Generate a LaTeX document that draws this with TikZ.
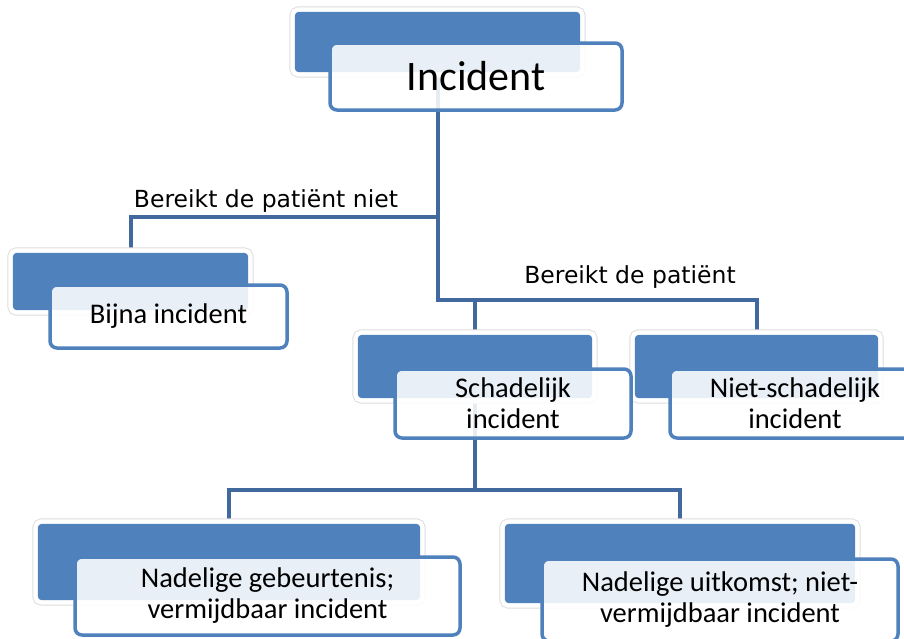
\documentclass[tikz,border=0pt]{standalone}
\usepackage{fontspec}
\setmainfont{Carlito}
\newfontfamily\lblfont{DejaVu Sans}
\definecolor{boxblue}{HTML}{4F81BD}
\definecolor{linkblue}{HTML}{41699E}
\begin{document}
\begin{tikzpicture}[x=1pt,y=-1pt,
  backbox/.style={fill=boxblue, rounded corners=4pt, inner sep=0pt,
    preaction={draw=black!13, line width=11pt},
    preaction={draw=white, line width=9pt}},
  frontbox/.style={draw=boxblue, line width=3.5pt, fill=white, fill opacity=0.88,
    text opacity=1, rounded corners=7pt, inner sep=0pt, align=center,
    font=\fontsize{28.5}{31}\selectfont},
  link/.style={draw=linkblue, line width=4pt},
  lbl/.style={font=\lblfont\fontsize{23.5}{28}\selectfont, inner sep=0pt}]
\useasboundingbox (0,0) rectangle (904,638);
\fill[white] (0,0) rectangle (904,638);

% back boxes (positions only; drawn later)
\path (437.5,42) node[minimum width=285pt, minimum height=60pt, inner sep=0pt] (incB) {};
\path (130.5,281.5) node[minimum width=235pt, minimum height=57pt, inner sep=0pt] (bijB) {};
\path (475,366.5) node[minimum width=234pt, minimum height=63pt, inner sep=0pt] (schB) {};
\path (756.5,366.5) node[minimum width=243pt, minimum height=63pt, inner sep=0pt] (nietB) {};
\path (229,562) node[minimum width=382pt, minimum height=76pt, inner sep=0pt] (nlB) {};
\path (680,563.5) node[minimum width=350pt, minimum height=79pt, inner sep=0pt] (nrB) {};

% junctions
\coordinate (jl) at (incB.center |- 0,217);
\coordinate (jr) at (incB.center |- 0,300);
\coordinate (jb) at (schB.center |- 0,490);

% connectors
\draw[link] (incB.center) -- (jr) -| (nietB.north);
\draw[link] (jl) -| (bijB.north);
\draw[link] (jr -| schB.north) -- (schB.north);
\draw[link] (schB.center) -- (jb);
\draw[link] (nlB.north) |- (jb) -| (nrB.north);

% back rectangles
\foreach \n in {incB,bijB,schB,nietB,nlB,nrB}
  \path[backbox] (\n.north west) rectangle (\n.south east);

% front boxes
\node[frontbox, minimum width=292pt, minimum height=67pt,
  font=\fontsize{42}{46}\selectfont] (incF) at (476,76.5) {Incident};
\node[frontbox, minimum width=237pt, minimum height=63pt] (bijF) at (168.5,316.5) {Bijna incident};
\node[frontbox, minimum width=236pt, minimum height=69pt] (schF) at (513,403.5) {Schadelijk\\incident};
\node[frontbox, minimum width=250pt, minimum height=69pt] (nietF) at (795,403.5) {Niet-schadelijk\\incident};
\node[frontbox, minimum width=385pt, minimum height=78pt] (nlF) at (267.5,596) {Nadelige gebeurtenis;\\vermijdbaar incident};
\node[frontbox, minimum width=356pt, minimum height=82pt] (nrF) at (720,600) {Nadelige uitkomst; niet-\\vermijdbaar incident};

% labels
\node[lbl, anchor=base] (l1) at (266,207) {Bereikt de patiënt niet};
\node[lbl, anchor=base] (l2) at (630,283) {Bereikt de patiënt};
\end{tikzpicture}
\end{document}
